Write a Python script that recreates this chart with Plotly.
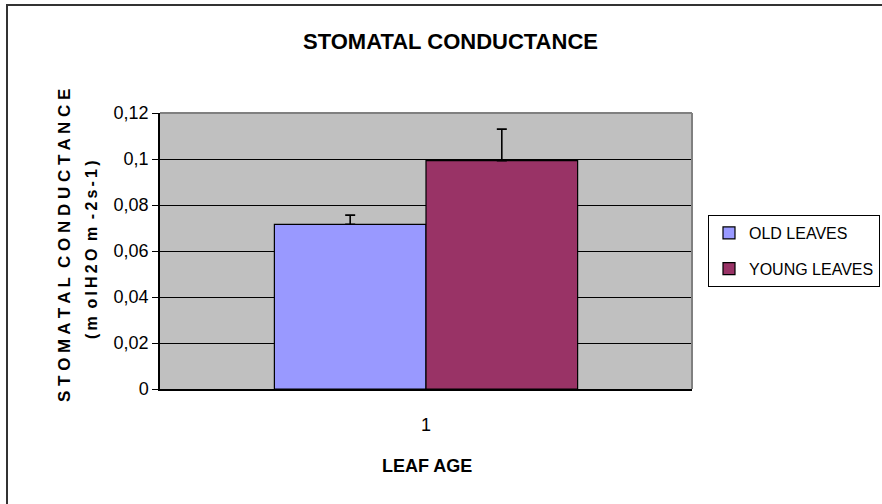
import plotly.graph_objects as go

categories = [1]
series_names = ["OLD LEAVES", "YOUNG LEAVES"]
old_values = [0.0716]
young_values = [0.0993]
old_err = [0.0040]
young_err = [0.0137]
colors = ["#9999FF", "#993366"]
y_ticks = [0, 0.02, 0.04, 0.06, 0.08, 0.1, 0.12]
y_ticktext = ["0", "0,02", "0,04", "0,06", "0,08", "0,1", "0,12"]

FONT = "Arial, Liberation Sans, sans-serif"

fig = go.Figure()
for name, vals, err, col, grp in [
    (series_names[0], old_values, old_err, colors[0], "a"),
    (series_names[1], young_values, young_err, colors[1], "b"),
]:
    fig.add_trace(go.Bar(
        x=categories, y=vals, name=name, legendgroup=grp,
        marker=dict(color=col, line=dict(color="black", width=1.2)),
        error_y=dict(type="data", array=err, arrayminus=[0] * len(err), symmetric=False,
                     visible=True, color="black", thickness=1.6, width=5),
    ))

L, R, T, B = 160, 190, 113, 115
W, H = 882, 504
pw, ph = W - L - R, H - T - B

def px(x):
    return (x - L) / pw

def py(y):
    return (H - B - y) / ph

TS = "\u2009"
shapes = [
    dict(type="rect", xref="paper", yref="paper", x0=px(7), y0=py(560),
         x1=px(960), y1=py(5), line=dict(color="#333333", width=2), layer="below"),
    dict(type="line", xref="paper", yref="paper", x0=0, x1=1, y0=1, y1=1,
         line=dict(color="#808080", width=2)),
    dict(type="line", xref="paper", yref="paper", x0=1, x1=1, y0=0, y1=1,
         line=dict(color="#808080", width=2)),
]

annotations = [
    dict(text="<b>STOMATAL CONDUCTANCE</b>", xref="paper", yref="paper",
         x=px(450), y=py(42), showarrow=False, font=dict(family=FONT, size=22, color="black"),
         xanchor="center", yanchor="middle"),
    dict(text="<b>LEAF AGE</b>", xref="paper", yref="paper",
         x=px(427), y=py(466), showarrow=False, font=dict(family=FONT, size=18, color="black"),
         xanchor="center", yanchor="middle"),
    dict(text="<b>S T O M A T A L \u00a0C O N D U C T A N C E</b>", xref="paper", yref="paper",
         x=px(64), y=py(246), showarrow=False, textangle=-90,
         font=dict(family=FONT, size=17, color="black"), xanchor="center", yanchor="middle"),
    dict(text="<b>" + TS.join(["(", "m", " o", "l", "H", "2", "O", " m", " -", "2", "s", "-", "1", ")"]) + "</b>",
         xref="paper", yref="paper",
         x=px(91), y=py(250), showarrow=False, textangle=-90,
         font=dict(family=FONT, size=16, color="black"), xanchor="center", yanchor="middle"),
]

fig.update_layout(
    width=W, height=H,
    margin=dict(l=L, r=R, t=T, b=B, autoexpand=False),
    paper_bgcolor="white", plot_bgcolor="#C0C0C0",
    barmode="group", bargap=0.43, bargroupgap=0,
    font=dict(family=FONT, color="black"),
    showlegend=True,
    legend=dict(x=px(708), y=py(215), xanchor="left", yanchor="top",
                bgcolor="white", bordercolor="black", borderwidth=1,
                font=dict(family=FONT, size=16, color="black"), itemwidth=30,
                tracegroupgap=12, traceorder="grouped"),
    shapes=shapes, annotations=annotations,
)
fig.update_xaxes(range=[0.5, 1.5], tickvals=categories, ticktext=[str(c) for c in categories],
                 showgrid=False, zeroline=False, showline=True, linecolor="black", linewidth=1.5,
                 ticks="", ticklabelstandoff=19, tickfont=dict(family=FONT, size=18, color="black"))
fig.update_yaxes(range=[0, 0.12], tickvals=y_ticks, ticktext=y_ticktext,
                 showgrid=True, gridcolor="black", gridwidth=1, zeroline=False,
                 showline=True, linecolor="black", linewidth=1.5,
                 ticks="outside", ticklen=6, tickcolor="black", tickwidth=1,
                 tickfont=dict(family=FONT, size=18, color="black"))

fig.write_html("out.html", config={"displayModeBar": False},
               post_script="document.body.style.margin='0';document.body.style.padding='0';")
